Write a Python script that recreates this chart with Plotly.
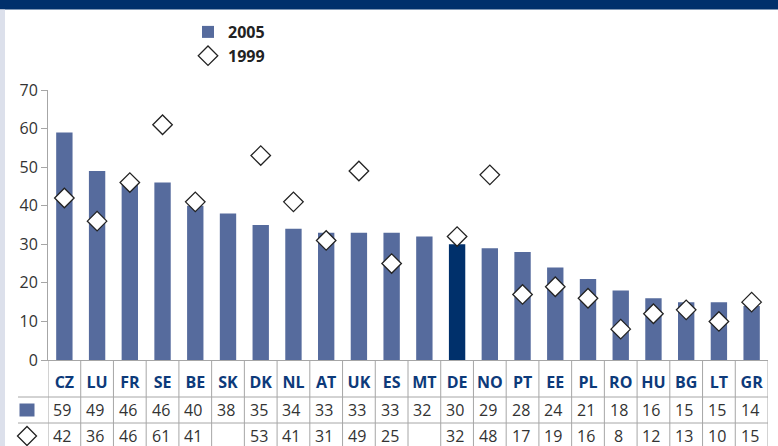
import plotly.graph_objects as go

countries = ["CZ","LU","FR","SE","BE","SK","DK","NL","AT","UK","ES","MT","DE","NO","PT","EE","PL","RO","HU","BG","LT","GR"]
v2005 = [59,49,46,46,40,38,35,34,33,33,33,32,30,29,28,24,21,18,16,15,15,14]
v1999 = [42,36,46,61,41,None,53,41,31,49,25,None,32,48,17,19,16,8,12,13,10,15]
yticks = [0,10,20,30,40,50,60,70]

W, H = 778, 446
L, R, T, B = 48, 10, 90, 86
PH = H - T - B
PW = W - L - R

def py(p):
    return (H - B - p) / PH

def px(p):
    return (p - L) / PW

bar_col = "#566B9D"
hi_col = "#00306B"
colors = [hi_col if c == "DE" else bar_col for c in countries]

fig = go.Figure()
fig.add_trace(go.Bar(x=countries, y=v2005, name="2005", marker=dict(color=colors, line=dict(width=0)),
                     width=0.5))
fig.add_trace(go.Scatter(x=countries, y=v1999, name="1999", mode="markers",
                         marker=dict(symbol="diamond", size=15, color="white",
                                     line=dict(color="#222222", width=1.3)),
                         cliponaxis=False))

shapes = []
shapes.append(dict(type="rect", xref="paper", yref="paper", x0=px(0), x1=px(W), y0=py(9.5), y1=py(0),
                   fillcolor="#00306B", line=dict(width=0), layer="below"))
shapes.append(dict(type="rect", xref="paper", yref="paper", x0=px(0), x1=px(5), y0=py(H), y1=py(9.5),
                   fillcolor="#DCE0EB", line=dict(width=0), layer="below"))
grid = "#A6A6A6"
n = len(countries)
for k in range(n + 1):
    shapes.append(dict(type="line", xref="x", yref="paper", x0=k - 0.5, x1=k - 0.5,
                       y0=py(360), y1=py(H), line=dict(color=grid, width=1)))
for yy in (397, 423):
    shapes.append(dict(type="line", xref="paper", yref="paper", x0=px(18), x1=1,
                       y0=py(yy), y1=py(yy), line=dict(color=grid, width=1)))
shapes.append(dict(type="rect", xref="paper", yref="paper", xsizemode="pixel", ysizemode="pixel",
                   xanchor=px(27), yanchor=py(410), x0=-7.5, x1=7.5, y0=-6.5, y1=6.5,
                   fillcolor=bar_col, line=dict(width=0)))
shapes.append(dict(type="path", xref="paper", yref="paper", xsizemode="pixel", ysizemode="pixel",
                   xanchor=px(27), yanchor=py(436),
                   path="M -9.5 0 L 0 9.5 L 9.5 0 L 0 -9.5 Z",
                   fillcolor="white", line=dict(color="#222222", width=1.3)))

FAM = "Open Sans, Noto Sans, sans-serif"
annotations = []
vfont = dict(family=FAM, size=16, color="#333333")
for c, a, b in zip(countries, v2005, v1999):
    annotations.append(dict(x=c, xref="x", yref="paper", y=py(410), text=str(a), showarrow=False,
                            font=vfont, xanchor="center", yanchor="middle", xshift=-2))
    if b is not None:
        annotations.append(dict(x=c, xref="x", yref="paper", y=py(436), text=str(b), showarrow=False,
                                font=vfont, xanchor="center", yanchor="middle", xshift=-2))

fig.update_layout(
    width=W, height=H,
    margin=dict(l=L, r=R, t=T, b=B),
    paper_bgcolor="white", plot_bgcolor="white",
    shapes=shapes, annotations=annotations,
    bargap=0.5,
    showlegend=True,
    legend=dict(x=px(188), y=py(15), xanchor="left", yanchor="top", bgcolor="rgba(0,0,0,0)",
                font=dict(family=FAM, size=16, color="#222222", weight="bold"),
                itemwidth=30, tracegroupgap=0),
    xaxis=dict(type="category", range=[-0.5, n - 0.5], showline=True, linecolor=grid, linewidth=1,
               ticks="", showgrid=False, zeroline=False, ticklabelstandoff=8,
               tickfont=dict(family=FAM, size=16, color="#0D3A7A", weight="bold")),
    yaxis=dict(range=[0, 70], tickvals=yticks, showline=True, linecolor=grid, linewidth=1,
               ticks="outside", ticklen=6, tickcolor=grid, showgrid=False, zeroline=False,
               tickfont=dict(family=FAM, size=16, color="#333333")),
)

fig.write_html("out.html", config={"displayModeBar": False},
               post_script="document.body.style.margin='0';document.body.style.overflow='hidden';")
